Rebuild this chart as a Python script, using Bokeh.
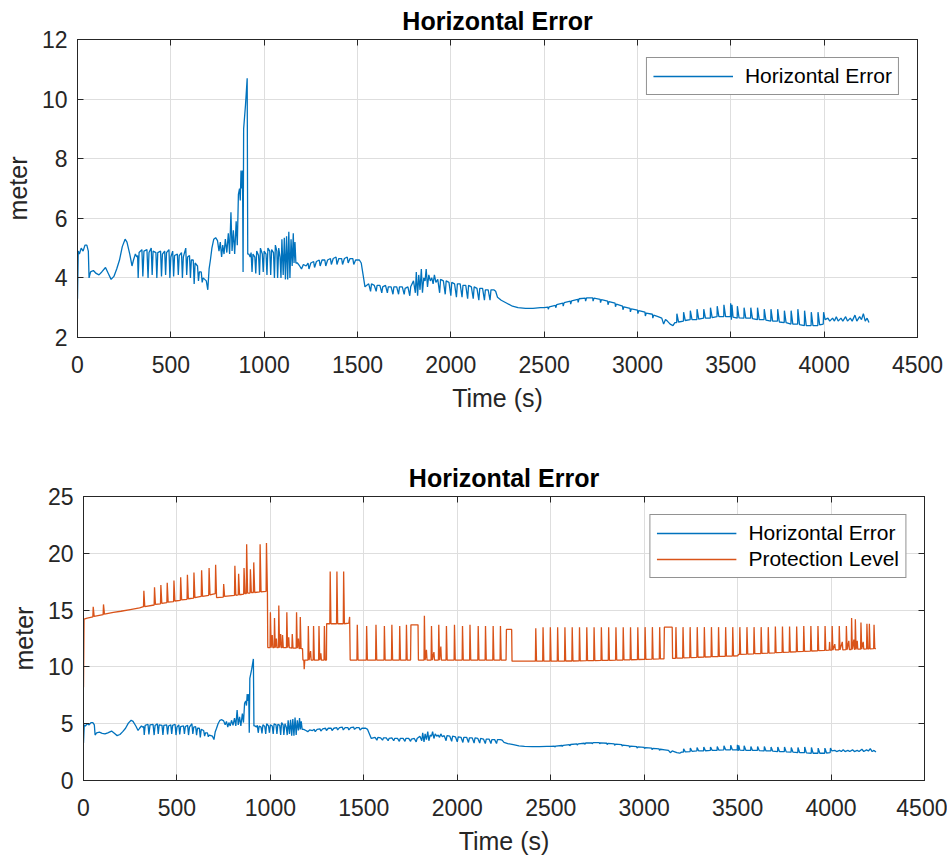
from bokeh.plotting import figure
from bokeh.layouts import column, row
from bokeh.models import Range1d, LinearAxis, FixedTicker, Legend, LegendItem
from bokeh.embed import file_html
from bokeh.resources import INLINE

# ---------------- data ----------------
title_text = "Horizontal Error"
x_label = "Time (s)"
y_label = "meter"
x_ticks = [0, 500, 1000, 1500, 2000, 2500, 3000, 3500, 4000, 4500]
y_ticks_top = [2, 4, 6, 8, 10, 12]
y_ticks_bottom = [0, 5, 10, 15, 20, 25]

# Horizontal Error: (time s, meter)
he_pts = [
    (0, 3.3), (4, 4.9), (10, 4.8), (20, 5.0), (30, 4.9), (40, 5.1), (50, 5.1), (58, 4.9), (62, 4.0), (70, 4.2),
    (85, 4.25), (100, 4.15), (115, 4.1), (130, 4.2), (150, 4.35), (165, 4.15), (180, 3.95), (195, 4.05), (210, 4.3),
    (225, 4.6), (240, 5.05), (255, 5.3), (265, 5.2), (280, 4.8), (292, 4.4), (300, 4.6), (310, 4.8), (318, 4.7),
    (322, 4.75), (325, 4.0), (330, 4.85), (345, 4.95), (350, 4.05), (356, 4.9), (372, 4.95), (378, 4.0), (383, 4.85),
    (395, 5.0), (400, 4.1), (405, 4.9), (420, 4.85), (425, 4.0), (430, 4.85), (445, 4.9), (450, 4.05), (455, 4.8),
    (467, 4.9), (472, 4.1), (477, 4.85), (490, 4.95), (495, 4.0), (500, 4.7), (510, 4.9), (515, 4.05), (520, 4.75),
    (535, 4.8), (540, 4.1), (545, 4.75), (557, 4.85), (562, 4.0), (567, 4.7), (580, 5.0), (585, 4.1), (590, 4.7),
    (600, 4.75), (605, 4.0), (610, 4.6), (620, 4.6), (625, 3.8), (630, 4.5), (643, 4.4), (648, 3.9), (653, 4.2),
    (663, 4.2), (668, 3.85), (673, 4.0), (690, 3.9), (698, 3.6), (705, 4.3), (712, 4.6),
    (720, 5.0), (730, 5.3), (740, 5.35), (750, 5.25), (758, 4.9), (765, 5.2), (772, 4.7), (778, 5.1), (785, 4.8),
    (792, 5.3), (800, 4.85), (808, 5.5), (815, 4.8), (822, 6.2), (828, 4.9), (835, 5.6), (842, 4.8), (850, 5.9),
    (856, 5.1), (862, 6.8), (868, 7.0), (872, 6.6), (876, 7.6), (880, 7.0), (884, 7.6), (887, 4.2), (890, 9.0),
    (900, 9.8), (909, 10.7), (912, 4.8),
    (918, 4.8), (925, 4.7), (930, 4.85), (935, 4.2), (940, 4.8), (950, 4.7), (955, 4.15), (960, 4.9), (970, 4.75),
    (975, 4.1), (980, 5.0), (990, 4.8), (995, 4.2), (1000, 4.9), (1010, 4.8), (1015, 4.1), (1020, 5.0), (1030, 4.9),
    (1035, 4.1), (1040, 4.95), (1050, 4.85), (1055, 4.0), (1060, 5.1), (1068, 4.9), (1072, 4.0), (1078, 5.0),
    (1085, 4.7), (1090, 4.0), (1095, 5.3), (1102, 4.1), (1108, 5.35), (1114, 3.95), (1120, 5.4), (1126, 3.95),
    (1132, 5.55), (1138, 4.0), (1144, 5.3), (1150, 4.4), (1156, 5.5), (1160, 4.5), (1165, 5.2), (1170, 4.5),
    (1178, 4.5),
    (1190, 4.4), (1200, 4.3), (1210, 4.45), (1225, 4.4), (1235, 4.5), (1240, 4.3), (1250, 4.5), (1265, 4.55),
    (1270, 4.35), (1280, 4.55), (1295, 4.6), (1300, 4.4), (1310, 4.6), (1325, 4.6), (1330, 4.4), (1340, 4.6),
    (1355, 4.65), (1360, 4.45), (1370, 4.65), (1385, 4.7), (1390, 4.45), (1400, 4.65), (1415, 4.65), (1420, 4.45),
    (1430, 4.65), (1445, 4.7), (1450, 4.5), (1460, 4.65), (1475, 4.65), (1480, 4.45), (1490, 4.6), (1510, 4.6),
    (1520, 4.5), (1530, 4.1), (1540, 3.7),
    (1550, 3.75), (1560, 3.8), (1570, 3.55), (1575, 3.8), (1590, 3.75), (1600, 3.55), (1605, 3.75), (1620, 3.75),
    (1630, 3.5), (1635, 3.7), (1650, 3.75), (1660, 3.5), (1665, 3.7), (1680, 3.7), (1690, 3.45), (1695, 3.7),
    (1710, 3.7), (1720, 3.45), (1725, 3.7), (1740, 3.7), (1750, 3.45), (1755, 3.65), (1770, 3.7), (1780, 3.4),
    (1785, 3.7), (1800, 3.9), (1810, 3.5), (1815, 4.2), (1822, 3.4), (1828, 4.1), (1835, 3.6), (1842, 4.3),
    (1848, 3.5), (1855, 4.0), (1862, 3.9), (1868, 4.3), (1875, 3.7), (1882, 4.1), (1890, 3.9), (1898, 4.0),
    (1905, 3.8), (1912, 4.1), (1920, 3.85),
    (1930, 3.95), (1940, 3.5), (1945, 3.95), (1960, 3.9), (1970, 3.45), (1975, 3.9), (1990, 3.85), (2000, 3.4),
    (2005, 3.85), (2020, 3.8), (2030, 3.35), (2035, 3.8), (2050, 3.8), (2060, 3.35), (2065, 3.75), (2080, 3.75),
    (2090, 3.3), (2095, 3.75), (2110, 3.7), (2120, 3.3), (2125, 3.7), (2140, 3.65), (2150, 3.25), (2155, 3.65),
    (2170, 3.65), (2180, 3.25), (2185, 3.6), (2200, 3.6), (2210, 3.25), (2215, 3.6), (2230, 3.6), (2240, 3.55),
    (2250, 3.35),
    (2270, 3.25), (2300, 3.15), (2330, 3.05), (2360, 3.0), (2400, 2.98), (2440, 2.98), (2480, 3.0), (2500, 3.0),
    (2520, 3.02), (2522, 2.95), (2527, 3.03), (2560, 3.08), (2562, 3.0), (2567, 3.1), (2600, 3.15), (2602, 3.05),
    (2607, 3.17), (2640, 3.22), (2642, 3.12), (2647, 3.23), (2680, 3.28), (2682, 3.18), (2687, 3.3), (2720, 3.32),
    (2722, 3.22), (2727, 3.33), (2760, 3.33), (2762, 3.22), (2767, 3.32), (2800, 3.28), (2802, 3.17), (2807, 3.27),
    (2840, 3.22), (2842, 3.1), (2847, 3.2), (2880, 3.15), (2882, 3.03), (2887, 3.12), (2920, 3.05), (2922, 2.93),
    (2927, 3.03), (2960, 2.98), (2962, 2.86), (2967, 2.96), (3000, 2.92), (3002, 2.8), (3007, 2.9), (3040, 2.85),
    (3042, 2.72), (3047, 2.82), (3080, 2.78), (3082, 2.65), (3087, 2.75), (3110, 2.7), (3130, 2.65), (3140, 2.45),
    (3150, 2.6), (3160, 2.55), (3175, 2.45), (3190, 2.4), (3200, 2.5),
    (3210, 2.5), (3211, 2.8), (3220, 2.52), (3246, 2.55), (3247, 2.85), (3256, 2.57), (3282, 2.6), (3283, 2.9),
    (3292, 2.6), (3318, 2.6), (3319, 2.95), (3328, 2.62), (3354, 2.65), (3355, 2.95), (3364, 2.65), (3390, 2.65),
    (3391, 3.0), (3400, 2.67), (3426, 2.7), (3427, 3.05), (3436, 2.7), (3462, 2.7), (3463, 3.1), (3472, 2.7),
    (3498, 2.7), (3499, 3.15), (3503, 2.6), (3506, 3.1), (3512, 2.68), (3534, 2.65), (3535, 3.05), (3544, 2.66),
    (3570, 2.65), (3571, 3.0), (3580, 2.65), (3606, 2.65), (3607, 3.0), (3616, 2.63), (3642, 2.6), (3643, 3.0),
    (3652, 2.6), (3678, 2.6), (3679, 2.95), (3688, 2.58), (3714, 2.55), (3715, 2.95), (3724, 2.55), (3750, 2.55),
    (3751, 2.95), (3760, 2.52), (3786, 2.5), (3787, 2.9), (3796, 2.5), (3822, 2.45), (3823, 2.9), (3832, 2.45),
    (3858, 2.45), (3859, 2.95), (3868, 2.43), (3894, 2.4), (3895, 2.9), (3904, 2.4), (3930, 2.4), (3931, 2.85),
    (3940, 2.4), (3966, 2.4), (3967, 2.85), (3976, 2.42), (3995, 2.45), (3997, 2.85), (4005, 2.6),
    (4020, 2.65), (4030, 2.55), (4045, 2.65), (4055, 2.55), (4065, 2.7), (4075, 2.55), (4090, 2.65), (4100, 2.55),
    (4115, 2.7), (4125, 2.55), (4140, 2.65), (4150, 2.55), (4165, 2.75), (4175, 2.55), (4190, 2.7), (4200, 2.6),
    (4210, 2.8), (4220, 2.55), (4230, 2.65), (4240, 2.5),
]

# Protection Level: (time s, meter)
pl_pts = [
    (0, 8.2), (3, 14.2), (20, 14.3), (50, 14.4), (52, 15.3), (57, 14.45), (105, 14.6), (107, 15.5), (112, 14.65),
    (160, 14.8), (200, 14.9), (250, 15.05), (300, 15.2),
    (321, 15.3), (323, 16.7), (328, 15.3), (378, 15.45), (380, 17.0), (385, 15.5), (412, 15.55), (414, 17.2),
    (419, 15.6), (446, 15.65), (448, 17.4), (453, 15.7), (482, 15.75), (484, 17.6), (489, 15.8), (518, 15.85),
    (520, 17.9), (525, 15.9), (554, 15.95), (556, 18.1), (561, 16.0), (589, 16.05), (591, 18.3), (596, 16.1),
    (630, 16.2), (632, 18.5), (637, 16.2), (670, 16.3), (672, 18.7), (677, 16.35), (705, 16.45), (707, 19.0),
    (712, 16.1),
    (748, 16.15), (750, 17.3), (755, 16.2), (808, 16.3), (810, 18.9), (815, 16.3), (828, 16.35), (830, 18.2),
    (835, 16.35), (857, 16.4), (859, 18.7), (864, 16.45), (871, 16.45), (873, 20.8), (878, 16.5), (891, 16.5),
    (893, 18.6), (898, 16.55), (909, 16.55), (911, 19.2), (916, 16.55), (943, 16.6), (945, 20.8), (950, 16.6),
    (977, 16.65), (979, 20.9), (984, 16.65), (986, 11.7),
    (998, 11.7), (1000, 14.8), (1004, 11.7), (1010, 12.8), (1013, 11.7), (1020, 11.7), (1022, 14.3), (1026, 11.7),
    (1032, 12.5), (1035, 11.7), (1043, 11.7), (1045, 15.4), (1049, 11.7), (1055, 12.9), (1058, 11.7), (1063, 11.7),
    (1065, 12.8), (1069, 11.7), (1086, 11.7), (1088, 14.8), (1092, 11.7), (1098, 12.6), (1101, 11.7),
    (1115, 11.65), (1117, 12.9), (1121, 11.65), (1138, 11.65), (1140, 14.8), (1144, 11.65), (1150, 12.5),
    (1153, 11.65), (1158, 11.6), (1160, 14.4), (1164, 11.6), (1172, 11.6), (1174, 10.6), (1179, 10.6),
    (1181, 9.8), (1184, 10.6),
    (1201, 10.6), (1203, 13.6), (1207, 10.6), (1215, 11.4), (1218, 10.6), (1229, 10.6), (1231, 13.6), (1235, 10.6),
    (1258, 10.6), (1260, 13.6), (1264, 10.6), (1270, 11.2), (1273, 10.6), (1287, 10.6), (1289, 13.6), (1293, 10.6),
    (1300, 10.6), (1301, 13.8), (1318, 13.8), (1320, 18.4), (1324, 13.8), (1354, 13.8), (1356, 18.4), (1360, 13.8),
    (1390, 13.8), (1392, 18.4), (1396, 13.8), (1420, 13.85), (1424, 14.4), (1427, 10.6),
    (1463, 10.6), (1465, 13.7), (1469, 10.6), (1513, 10.6), (1515, 13.6), (1519, 10.6), (1563, 10.6), (1565, 13.7),
    (1569, 10.6), (1608, 10.6), (1610, 13.6), (1614, 10.6), (1648, 10.6), (1650, 13.7), (1654, 10.6),
    (1690, 10.6), (1692, 13.6), (1696, 10.6), (1726, 10.6), (1728, 13.7), (1732, 10.6),
    (1750, 10.6), (1752, 13.7), (1790, 13.7), (1792, 10.6),
    (1822, 10.6), (1824, 14.5), (1828, 10.6), (1835, 11.5), (1838, 10.6), (1860, 10.6), (1862, 13.6), (1866, 10.6),
    (1875, 11.3), (1878, 10.6), (1899, 10.6), (1901, 13.7), (1905, 10.6), (1912, 11.8), (1915, 10.6),
    (1940, 10.6), (1942, 13.6), (1946, 10.6), (1983, 10.6), (1985, 13.7), (1989, 10.6), (2026, 10.6), (2028, 13.6),
    (2032, 10.6), (2066, 10.6), (2068, 13.7), (2072, 10.6), (2110, 10.6), (2112, 13.6), (2116, 10.6),
    (2149, 10.6), (2151, 13.6), (2155, 10.6), (2190, 10.6), (2192, 13.6), (2196, 10.6), (2229, 10.6), (2231, 13.6),
    (2235, 10.6), (2261, 10.6), (2263, 13.3), (2291, 13.3), (2293, 10.5),
    (2418, 10.5), (2420, 13.4), (2424, 10.5), (2457, 10.5), (2459, 13.5), (2463, 10.5), (2496, 10.5), (2498, 13.5),
    (2502, 10.5), (2535, 10.5), (2537, 13.5), (2541, 10.5), (2574, 10.5), (2576, 13.5), (2580, 10.52),
    (2613, 10.52), (2615, 13.5), (2619, 10.52), (2652, 10.53), (2654, 13.5), (2658, 10.53), (2691, 10.55),
    (2693, 13.5), (2697, 10.55), (2730, 10.55), (2732, 13.5), (2736, 10.56), (2769, 10.57), (2771, 13.5),
    (2775, 10.57), (2808, 10.58), (2810, 13.5), (2814, 10.58), (2847, 10.6), (2849, 13.5), (2853, 10.6),
    (2886, 10.6), (2888, 13.5), (2892, 10.62), (2925, 10.62), (2927, 13.5), (2931, 10.63), (2964, 10.64),
    (2966, 13.5), (2970, 10.65), (3003, 10.66), (3005, 13.5), (3009, 10.67), (3042, 10.68), (3044, 13.5),
    (3048, 10.69), (3081, 10.7), (3083, 13.5), (3087, 10.7), (3106, 10.7), (3108, 13.5), (3150, 13.5),
    (3152, 10.75), (3168, 10.76), (3170, 13.5), (3174, 10.77), (3206, 10.78), (3208, 13.5), (3212, 10.8),
    (3244, 10.81), (3246, 13.5), (3250, 10.82), (3282, 10.84), (3284, 13.5), (3288, 10.85), (3320, 10.86),
    (3322, 13.5), (3326, 10.87), (3358, 10.89), (3360, 13.5), (3364, 10.9), (3396, 10.91), (3398, 13.5),
    (3402, 10.92), (3434, 10.93), (3436, 13.5), (3440, 10.94), (3472, 10.95), (3474, 13.5), (3478, 10.96),
    (3500, 10.97), (3505, 11.1), (3510, 11.1), (3512, 13.5), (3516, 11.1), (3548, 11.12), (3550, 13.5),
    (3554, 11.13), (3586, 11.15), (3588, 13.5), (3592, 11.16), (3624, 11.18), (3626, 13.5), (3630, 11.19),
    (3662, 11.21), (3664, 13.5), (3668, 11.22), (3700, 11.24), (3702, 13.55), (3706, 11.25), (3738, 11.27),
    (3740, 13.55), (3744, 11.28), (3776, 11.3), (3778, 13.55), (3782, 11.31), (3814, 11.33), (3816, 13.55),
    (3820, 11.34), (3852, 11.36), (3854, 13.6), (3858, 11.37), (3890, 11.39), (3892, 13.6), (3896, 11.4),
    (3928, 11.42), (3930, 13.6), (3934, 11.43), (3966, 11.45), (3968, 13.6), (3972, 11.46), (3990, 11.47),
    (3992, 12.2), (3995, 11.47), (4004, 11.48), (4006, 13.6), (4010, 11.48), (4020, 12.0), (4023, 11.49),
    (4042, 11.5), (4044, 13.6), (4048, 11.5), (4060, 12.2), (4063, 11.5), (4080, 11.52), (4082, 13.6),
    (4086, 11.52), (4095, 12.3), (4098, 11.53), (4108, 11.53), (4110, 14.3), (4114, 11.54), (4122, 12.4),
    (4125, 11.55), (4128, 11.55), (4130, 14.2), (4134, 11.55), (4140, 12.3), (4143, 11.56), (4158, 11.56),
    (4160, 13.9), (4164, 11.57), (4172, 12.2), (4175, 11.57), (4190, 11.58), (4192, 13.8), (4196, 11.58),
    (4203, 11.58), (4205, 13.8), (4209, 11.59), (4228, 11.6), (4230, 13.7), (4234, 11.6), (4240, 11.6),
]

he_t = [p[0] for p in he_pts]
he_v = [p[1] for p in he_pts]
pl_t = [p[0] for p in pl_pts]
pl_v = [p[1] for p in pl_pts]

# ---------------- styling ----------------
FONT = "Liberation Sans"
AXC = "#262626"
BLUE = "#0072BD"
ORANGE = "#D95319"
GRID = "#dedede"


def make_fig(height, mb_left, mb_right, mb_top, mb_bottom, y_range, y_ticks, title_standoff):
    p = figure(width=947, height=height, output_backend="svg", toolbar_location=None,
               x_range=Range1d(0, 4500), y_range=Range1d(*y_range),
               min_border_left=mb_left, min_border_right=mb_right,
               min_border_top=mb_top, min_border_bottom=mb_bottom,
               title=title_text)
    p.title.align = "center"
    p.title.text_font = FONT
    p.title.text_font_size = "25px"
    p.title.text_font_style = "bold"
    p.title.text_color = "#000000"
    p.title.standoff = title_standoff
    p.outline_line_color = AXC
    p.outline_line_width = 1
    p.background_fill_color = "white"
    p.border_fill_color = "white"

    p.xaxis.ticker = FixedTicker(ticks=x_ticks)
    p.yaxis.ticker = FixedTicker(ticks=y_ticks)
    p.xaxis.axis_label = x_label
    p.yaxis.axis_label = y_label
    for ax in (p.xaxis[0], p.yaxis[0]):
        ax.axis_line_color = AXC
        ax.major_tick_line_color = AXC
        ax.major_tick_in = 6
        ax.major_tick_out = 0
        ax.minor_tick_line_color = None
        ax.major_label_text_font = FONT
        ax.major_label_text_font_size = "23px"
        ax.major_label_text_color = AXC
        ax.axis_label_text_font = FONT
        ax.axis_label_text_font_size = "25px"
        ax.axis_label_text_font_style = "normal"
        ax.axis_label_text_color = AXC
        ax.axis_label_text_line_height = 1.0
    p.xaxis.major_label_standoff = 18
    p.xaxis.axis_label_standoff = 8
    p.yaxis.major_label_standoff = 10
    p.yaxis.axis_label_standoff = 7

    top = LinearAxis(ticker=FixedTicker(ticks=x_ticks), major_label_text_font_size="0px",
                     major_label_text_color=None,
                     major_label_standoff=0, major_tick_in=6, major_tick_out=0,
                     minor_tick_line_color=None, axis_line_color=AXC, major_tick_line_color=AXC)
    right = LinearAxis(ticker=FixedTicker(ticks=y_ticks), major_label_text_font_size="0px",
                       major_label_text_color=None,
                       major_label_standoff=0, major_tick_in=6, major_tick_out=0,
                       minor_tick_line_color=None, axis_line_color=AXC, major_tick_line_color=AXC)
    p.add_layout(top, "above")
    p.add_layout(right, "right")

    p.xgrid.grid_line_color = GRID
    p.ygrid.grid_line_color = GRID
    p.xgrid.ticker = FixedTicker(ticks=x_ticks)
    p.ygrid.ticker = FixedTicker(ticks=y_ticks)
    return p


def style_legend(lg):
    lg.location = "top_right"
    lg.margin = 18
    lg.padding = 6
    lg.spacing = 2
    lg.glyph_width = 80
    lg.glyph_height = 20
    lg.label_height = 20
    lg.label_standoff = 12
    lg.label_text_font = FONT
    lg.label_text_font_size = "21px"
    lg.label_text_color = "#000000"
    lg.border_line_color = AXC
    lg.border_line_width = 1
    lg.background_fill_color = "white"
    lg.background_fill_alpha = 1.0


# ---------- top plot ----------
p1 = make_fig(440, 74, 30, 39, 103, (2, 12), y_ticks_top, 9)
r1 = p1.line(he_t, he_v, line_color=BLUE, line_width=1.3)
lg1 = Legend(items=[LegendItem(label="Horizontal Error", renderers=[r1])])
style_legend(lg1)
p1.add_layout(lg1)

# ---------- bottom plot ----------
p2 = make_fig(417, 83, 23, 56, 76, (0, 25), y_ticks_bottom, 10)
r2a = p2.line(he_t, he_v, line_color=BLUE, line_width=1.3)
r2b = p2.line(pl_t, pl_v, line_color=ORANGE, line_width=1.3)
lg2 = Legend(items=[LegendItem(label="Horizontal Error", renderers=[r2a]),
                    LegendItem(label="Protection Level", renderers=[r2b])])
style_legend(lg2)
p2.add_layout(lg2)

layout = column(row(p1), row(p2), spacing=0)
open("out.html", "w").write(file_html(layout, INLINE))
